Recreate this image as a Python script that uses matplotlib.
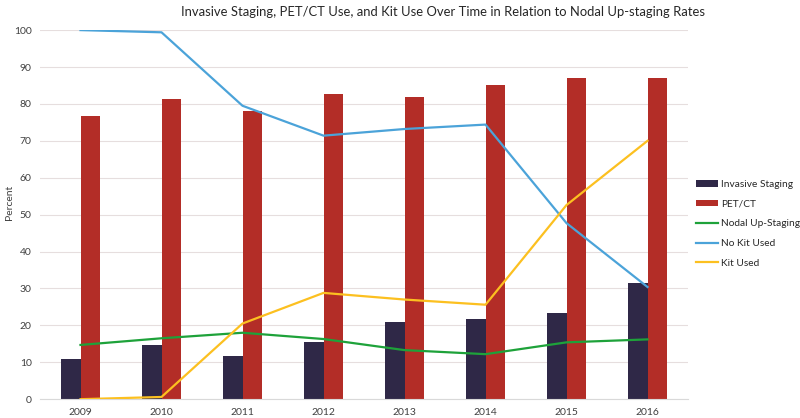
import matplotlib.pyplot as plt
import numpy as np

plt.rcParams['font.family'] = ['Lato', 'DejaVu Sans']

years = ['2009', '2010', '2011', '2012', '2013', '2014', '2015', '2016']
invasive = [11.0, 14.8, 11.7, 15.5, 20.8, 21.7, 23.3, 31.6]
pet_ct = [76.6, 81.2, 78.0, 82.6, 81.8, 85.1, 86.9, 87.1]
nodal = [14.7, 16.5, 18.0, 16.3, 13.3, 12.2, 15.4, 16.2]
no_kit = [100.0, 99.4, 79.5, 71.4, 73.2, 74.4, 47.7, 30.4]
kit = [0.0, 0.6, 20.5, 28.8, 27.0, 25.6, 52.6, 70.0]

x = np.arange(len(years))
w = 0.245

fig = plt.figure(figsize=(8, 4.18), dpi=100)
ax = fig.add_axes([0.05, 0.045, 0.81, 0.883])

b1 = ax.bar(x - w / 2, invasive, w, color='#2f2847', label='Invasive Staging', zorder=2)
b2 = ax.bar(x + w / 2, pet_ct, w, color='#b32d27', label='PET/CT', zorder=2)
l1, = ax.plot(x, nodal, color='#1ea23a', lw=1.6, label='Nodal Up-Staging', zorder=3)
l2, = ax.plot(x, no_kit, color='#4ba3d9', lw=1.6, label='No Kit Used', zorder=3)
l3, = ax.plot(x, kit, color='#fcc020', lw=1.6, label='Kit Used', zorder=3)

ax.set_xlim(-0.5, len(years) - 0.5)
ax.set_ylim(0, 100)
ax.set_yticks(range(0, 101, 10))
ax.set_xticks(x)
ax.set_xticklabels(years)
ax.grid(axis='y', color='#e6dede', lw=0.8, zorder=0)
for s in ['top', 'right', 'left']:
    ax.spines[s].set_visible(False)
ax.spines['bottom'].set_color('#d9d9d9')
ax.tick_params(axis='both', length=0, labelsize=7.5, colors='#404040', pad=6)

fig.text(0.012, 0.515, 'Percent', rotation=90, ha='center', va='center',
         fontsize=7.5, color='#404040')
fig.text(0.554, 0.971, 'Invasive Staging, PET/CT Use, and Kit Use Over Time in Relation to Nodal Up-staging Rates',
         ha='center', va='center', fontsize=9.4, color='#262626')

handles = [b1, b2, l1, l2, l3]
leg = ax.legend(handles, [h.get_label() for h in handles],
                loc='upper left', bbox_to_anchor=(1.003, 0.61), frameon=False,
                fontsize=7.3, handlelength=2.2, handleheight=0.55, labelspacing=1.05,
                handletextpad=0.25, borderaxespad=0.2)
for t in leg.get_texts():
    t.set_color('#262626')

fig.savefig('out.png', dpi=100)
